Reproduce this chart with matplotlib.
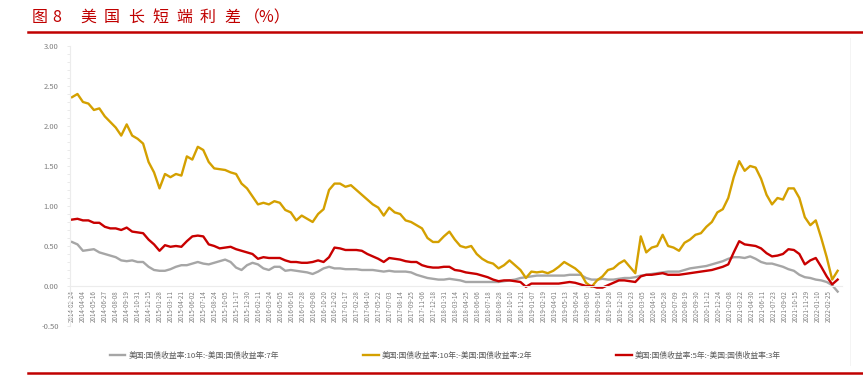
import numpy as np
import matplotlib
matplotlib.use("Agg")
import matplotlib.pyplot as plt
from matplotlib.ticker import MultipleLocator

plt.rcParams['font.family'] = ['Noto Sans CJK SC', 'DejaVu Sans']
plt.rcParams['axes.unicode_minus'] = False

date_labels = [
    "2014-02-24", "2014-04-04", "2014-05-16", "2014-06-27", "2014-08-08", "2014-09-19", "2014-10-31", "2014-12-15",
    "2015-01-28", "2015-03-11", "2015-04-21", "2015-06-02", "2015-07-14", "2015-08-24", "2015-10-05", "2015-11-17",
    "2015-12-30", "2016-02-11", "2016-03-24", "2016-05-05", "2016-06-16", "2016-07-28", "2016-09-08", "2016-10-20",
    "2016-12-02", "2017-01-17", "2017-02-28", "2017-04-10", "2017-05-22", "2017-07-03", "2017-08-14", "2017-09-25",
    "2017-11-06", "2017-12-18", "2018-01-31", "2018-03-14", "2018-04-25", "2018-06-06", "2018-07-18", "2018-08-28",
    "2018-10-10", "2018-11-21", "2019-01-07", "2019-02-19", "2019-04-01", "2019-05-13", "2019-06-24", "2019-08-05",
    "2019-09-16", "2019-10-28", "2019-12-10", "2020-01-23", "2020-03-05", "2020-04-16", "2020-05-28", "2020-07-09",
    "2020-08-19", "2020-09-30", "2020-11-12", "2020-12-24", "2021-02-08", "2021-03-22", "2021-04-30", "2021-06-11",
    "2021-07-23", "2021-09-02", "2021-10-15", "2021-11-29", "2022-01-10", "2022-02-25",
]

# 10Y - 7Y
spread_10_7 = [
    0.55, 0.52, 0.44, 0.45, 0.46, 0.42, 0.40, 0.38, 0.36, 0.32, 0.31, 0.32, 0.30, 0.30, 0.24, 0.20,
    0.19, 0.19, 0.21, 0.24, 0.26, 0.26, 0.28, 0.30, 0.28, 0.27, 0.29, 0.31, 0.33, 0.30, 0.23, 0.20,
    0.26, 0.29, 0.27, 0.22, 0.20, 0.24, 0.24, 0.19, 0.20, 0.19, 0.18, 0.17, 0.15, 0.18, 0.22, 0.24,
    0.22, 0.22, 0.21, 0.21, 0.21, 0.20, 0.20, 0.20, 0.19, 0.18, 0.19, 0.18, 0.18, 0.18, 0.17, 0.14,
    0.12, 0.10, 0.09, 0.08, 0.08, 0.09, 0.08, 0.07, 0.05, 0.05, 0.05, 0.05, 0.05, 0.05, 0.05, 0.06,
    0.07, 0.08, 0.10, 0.11, 0.12, 0.13, 0.13, 0.13, 0.13, 0.13, 0.13, 0.14, 0.14, 0.14, 0.10, 0.08,
    0.08, 0.09, 0.08, 0.08, 0.09, 0.10, 0.10, 0.11, 0.13, 0.14, 0.15, 0.16, 0.17, 0.18, 0.18, 0.18,
    0.20, 0.22, 0.23, 0.24, 0.25, 0.27, 0.29, 0.31, 0.34, 0.36, 0.36, 0.35, 0.37, 0.34, 0.30, 0.28,
    0.28, 0.26, 0.24, 0.21, 0.19, 0.14, 0.11, 0.10, 0.08, 0.07, 0.05, 0.01, -0.07,
]

# 10Y - 2Y
spread_10_2 = [
    2.36, 2.40, 2.30, 2.28, 2.20, 2.22, 2.12, 2.05, 1.98, 1.88, 2.02, 1.88, 1.84, 1.78, 1.55, 1.42,
    1.22, 1.40, 1.36, 1.40, 1.38, 1.62, 1.58, 1.74, 1.70, 1.55, 1.47, 1.46, 1.45, 1.42, 1.40, 1.28,
    1.22, 1.12, 1.02, 1.04, 1.02, 1.06, 1.04, 0.95, 0.92, 0.82, 0.88, 0.84, 0.80, 0.90, 0.96, 1.20,
    1.28, 1.28, 1.24, 1.26, 1.20, 1.14, 1.08, 1.02, 0.98, 0.88, 0.98, 0.92, 0.90, 0.82, 0.80, 0.76,
    0.72, 0.60, 0.55, 0.55, 0.62, 0.68, 0.58, 0.50, 0.48, 0.50, 0.40, 0.34, 0.30, 0.28, 0.22, 0.26,
    0.32, 0.26, 0.20, 0.10, 0.18, 0.17, 0.18, 0.16, 0.19, 0.24, 0.30, 0.26, 0.22, 0.16, 0.04, -0.01,
    0.07, 0.12, 0.20, 0.22, 0.28, 0.32, 0.24, 0.16, 0.62, 0.42, 0.48, 0.50, 0.64, 0.50, 0.48, 0.44,
    0.54, 0.58, 0.64, 0.66, 0.74, 0.80, 0.92, 0.96, 1.10, 1.36, 1.56, 1.44, 1.50, 1.48, 1.34, 1.14,
    1.02, 1.10, 1.08, 1.22, 1.22, 1.10, 0.86, 0.76, 0.82, 0.60, 0.36, 0.08, 0.19,
]

# 5Y - 3Y
spread_5_3 = [
    0.83, 0.84, 0.82, 0.82, 0.79, 0.79, 0.74, 0.72, 0.72, 0.70, 0.73, 0.68, 0.67, 0.66, 0.58, 0.52,
    0.44, 0.51, 0.49, 0.50, 0.49, 0.56, 0.62, 0.63, 0.62, 0.52, 0.50, 0.47, 0.48, 0.49, 0.46, 0.44,
    0.42, 0.40, 0.34, 0.36, 0.35, 0.35, 0.35, 0.32, 0.30, 0.30, 0.29, 0.29, 0.30, 0.32, 0.30, 0.36,
    0.48, 0.47, 0.45, 0.45, 0.45, 0.44, 0.40, 0.37, 0.34, 0.30, 0.35, 0.34, 0.33, 0.31, 0.30, 0.30,
    0.26, 0.24, 0.23, 0.23, 0.24, 0.24, 0.20, 0.19, 0.17, 0.16, 0.15, 0.13, 0.11, 0.08, 0.06, 0.07,
    0.07, 0.06, 0.05, -0.01, 0.03, 0.03, 0.03, 0.03, 0.03, 0.03, 0.04, 0.05, 0.04, 0.02, 0.00, 0.00,
    -0.02, -0.02, 0.01, 0.04, 0.07, 0.07, 0.06, 0.05, 0.12, 0.14, 0.14, 0.15, 0.16, 0.14, 0.14, 0.14,
    0.15, 0.16, 0.17, 0.18, 0.19, 0.20, 0.22, 0.24, 0.27, 0.42, 0.56, 0.52, 0.51, 0.50, 0.47, 0.41,
    0.37, 0.38, 0.40, 0.46, 0.45, 0.40, 0.27, 0.32, 0.35, 0.24, 0.12, 0.02, 0.08,
]

labels = [
    "美国:国债收益率:10年:-美国:国债收益率:7年",
    "美国:国债收益率:10年:-美国:国债收益率:2年",
    "美国:国债收益率:5年:-美国:国债收益率:3年",
]
colors = ["#a6a6a6", "#d4a000", "#c80000"]

fig = plt.figure(figsize=(8.63, 3.76), dpi=100)
ax = fig.add_axes([0.0809, 0.1330, 0.8948, 0.7447])

# spine position first, it resets tick settings
for s in ['top', 'right']:
    ax.spines[s].set_visible(False)
ax.spines['left'].set_color('#ececec')
ax.spines['bottom'].set_color('#ececec')
ax.spines['bottom'].set_position(('data', 0))

x = np.linspace(0, 69.8, len(spread_10_2))
for series, lab, c in zip([spread_10_7, spread_10_2, spread_5_3], labels, colors):
    ax.plot(x, series, color=c, linewidth=1.7, label=lab)

ax.set_xlim(-0.2, 70.2)
ax.set_ylim(-0.5, 3.0)
ax.yaxis.set_minor_locator(MultipleLocator(0.1))
ax.set_yticks(np.arange(-0.5, 3.01, 0.5))
ax.set_yticklabels([f"{v:.2f}" for v in np.arange(-0.5, 3.01, 0.5)])
ax.tick_params(axis='y', which='both', colors='#e6e6e6', labelcolor='#7f7f7f', labelsize=5.5, length=2, width=0.6, pad=6)

ax.set_xticks(range(len(date_labels)))
ax.set_xticklabels(date_labels, rotation=90, fontsize=4.5, color='#7f7f7f')
ax.tick_params(axis='x', length=0, pad=3)

leg = fig.legend(loc='center', bbox_to_anchor=(0.516, 0.053), ncol=3, frameon=False,
                 fontsize=5.6, handlelength=2.0, columnspacing=10.8, handletextpad=0.4)
for t in leg.get_texts():
    t.set_color('#595959')

# title, characters spaced out as in the report
title_chars = ["图", "8", "美", "国", "长", "短", "端", "利", "差", "（%）"]
title_px = [32, 52, 80, 104, 128, 152, 176, 200, 224, 244]
for ch, px in zip(title_chars, title_px):
    fig.text(px / 863, 0.953, ch, color='#c00000', fontsize=11.5, va='center', ha='left')
fig.add_artist(plt.Line2D([0.032, 1.0], [0.915, 0.915], color='#c00000', linewidth=1.8))
fig.add_artist(plt.Line2D([0.032, 1.0], [0.008, 0.008], color='#c00000', linewidth=1.8))
fig.add_artist(plt.Line2D([0.985, 0.985], [0.03, 0.90], color='#f2f2f2', linewidth=0.6))

fig.savefig("out.png", dpi=100)
